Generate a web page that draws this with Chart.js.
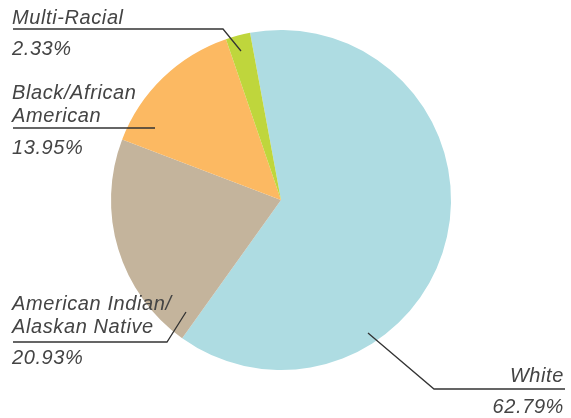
<!DOCTYPE html>
<html><head><meta charset="utf-8">
<script src="https://cdn.jsdelivr.net/npm/chart.js@4"></script>
<style>html,body{margin:0;padding:0;background:#fff}#wrap{width:571px;height:418px;position:relative}</style>
</head><body><div id="wrap"><canvas id="c" width="571" height="418"></canvas></div>
<script>
const categories = ["White", "American Indian/Alaskan Native", "Black/African American", "Multi-Racial"];
const values = [62.79, 20.93, 13.95, 2.33];
const colors = ["#aedce2", "#c4b49c", "#fcb962", "#bfd63c"];
const labelLines = [["White"], ["American Indian/", "Alaskan Native"], ["Black/African", "American"], ["Multi-Racial"]];
const pctLabels = ["62.79%", "20.93%", "13.95%", "2.33%"];

// annotation layout: leader polyline points, text anchor, alignment
const annLayout = [
  {pts:[[368,333],[434,389],[565,389]], x:564, align:"right", textBase:382, pctBase:413},
  {pts:[[186,312],[167,342],[13,342]], x:12, align:"left", textBase:333, pctBase:364},
  {pts:[[155,128],[13,128]], x:12, align:"left", textBase:122, pctBase:154},
  {pts:[[241,51],[223,29],[13,29]], x:12, align:"left", textBase:24, pctBase:55}
];

const annotPlugin = {
  id: "annot",
  afterDatasetsDraw(chart) {
    const ctx = chart.ctx;
    ctx.save();
    ctx.font = "italic 20px 'Liberation Sans', Arial, sans-serif";
    try { ctx.letterSpacing = "0.6px"; } catch (e) {}
    ctx.fillStyle = "#444";
    ctx.strokeStyle = "#333";
    ctx.lineWidth = 1.3;
    annLayout.forEach((a, i) => {
      ctx.beginPath();
      a.pts.forEach((p, j) => j ? ctx.lineTo(p[0], p[1]) : ctx.moveTo(p[0], p[1]));
      ctx.stroke();
      ctx.textAlign = a.align;
      ctx.textBaseline = "alphabetic";
      const lines = labelLines[i];
      const n = lines.length;
      lines.forEach((t, k) => ctx.fillText(t, a.x, a.textBase - (n - 1 - k) * 23));
      ctx.fillText(pctLabels[i], a.x, a.pctBase);
    });
    ctx.restore();
  }
};

new Chart(document.getElementById("c"), {
  type: "pie",
  data: { labels: categories, datasets: [{ data: values, backgroundColor: colors, borderWidth: 0 }] },
  options: {
    responsive: false,
    animation: false,
    rotation: -10.5,
    layout: { padding: { left: 111, right: 120, top: 30, bottom: 48 } },
    plugins: { legend: { display: false }, tooltip: { enabled: false } }
  },
  plugins: [annotPlugin]
});
</script></body></html>
